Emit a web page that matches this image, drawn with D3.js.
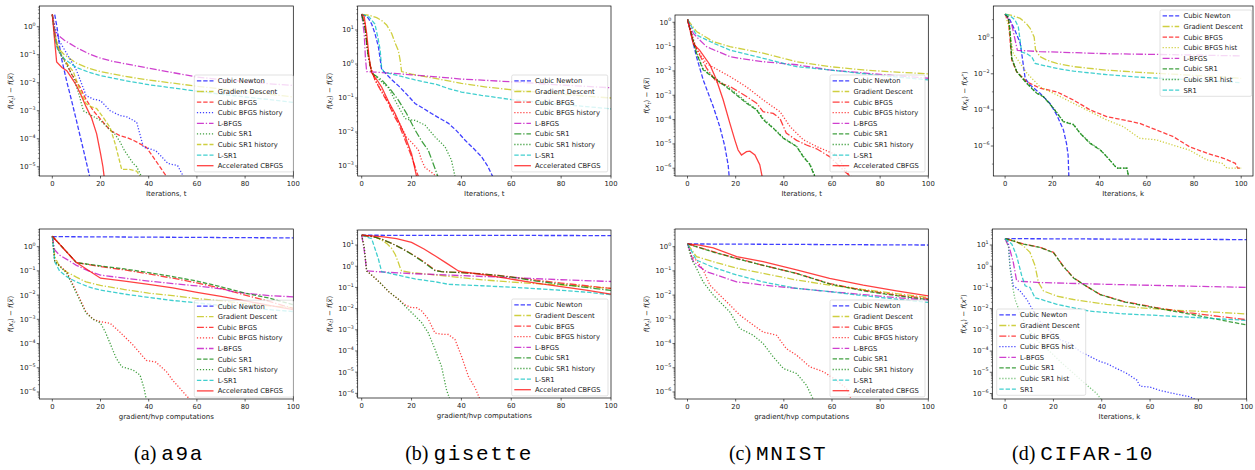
<!DOCTYPE html>
<html><head><meta charset="utf-8">
<script src="https://cdn.jsdelivr.net/npm/d3@7"></script>
<style>body{margin:0;background:#fff}svg{display:block}text{font-family:"DejaVu Sans",sans-serif}</style>
</head><body><svg id="c" width="1255" height="470"></svg>
<script>
// ---------- labels ----------
const xTicks = [0, 20, 40, 60, 80, 100];
const labelsMain = ["Cubic Newton","Gradient Descent","Cubic BFGS","Cubic BFGS history","L-BFGS","Cubic SR1","Cubic SR1 history","L-SR1","Accelerated CBFGS"];
const labelsCifar = ["Cubic Newton","Gradient Descent","Cubic BFGS","Cubic BFGS hist","L-BFGS","Cubic SR1","Cubic SR1 hist","SR1"];
const captionLetters = ["(a)","(b)","(c)","(d)"];
const captionNames = ["a9a","gisette","MNIST","CIFAR-10"];

// ---------- (a) a9a, iterations ----------
const aIt_CN = [[1,2.7],[2,0.9],[3,0.2],[4,0.063],[6,0.011],[8,2.3e-3],[10,4.5e-4],[12,8.5e-5],[14,1.6e-5],[15.5,4.5e-6]];
const aIt_GD = [[0,2.7],[1,0.6],[2,0.2],[3,0.15],[5,0.1],[10,0.05],[15,0.033],[20,0.025],[30,0.017],[40,0.0125],[50,0.0097],[60,0.0075],[70,0.006],[80,0.0048],[90,0.0039],[100,0.0031]];
const aIt_CB = [[0,2.7],[1,0.8],[2,0.2],[3,0.12],[6,0.048],[8,0.02],[11.5,7e-3],[14,2.5e-3],[17,1e-3],[20,5e-4],[24,2e-4],[28,1.3e-4],[31,1.1e-4],[34,8.5e-5],[39,5e-5],[43,1.6e-5],[47.4,4.5e-6]];
const aIt_CBH = [[0,2.7],[1,1.0],[3,0.3],[6,0.11],[10,0.028],[12,0.01],[14,3.5e-3],[17,2.6e-3],[20,2.3e-3],[24,1e-3],[28,6.8e-4],[31,6e-4],[35,3.9e-4],[37.8,5e-5],[40,4.5e-5],[43,3.7e-5],[46,2e-5],[48,1.3e-5],[52,1.1e-5],[54.4,4.5e-6]];
const aIt_LB = [[0,2.7],[1,0.65],[3,0.45],[5,0.33],[10,0.18],[15,0.11],[20,0.075],[25,0.058],[30,0.048],[40,0.033],[50,0.023],[60,0.016],[70,0.013],[80,0.011],[90,0.0092],[100,0.008]];
const aIt_CS = [[0,2.7],[1,0.5],[2.5,0.15],[5,0.06],[8.7,0.016],[11,4e-3],[12.9,1e-3],[16,7e-4],[20,4.5e-4],[23,2.5e-4],[25.9,1.5e-4],[28,8e-5],[30,3.7e-5],[33.6,1.3e-5],[35,1e-5],[37,4.5e-6]];
const aIt_CSH = [[0,2.7],[1,0.5],[3.2,0.12],[6,0.05],[8.7,0.025],[11,7e-3],[14,1.8e-3],[16,1.4e-3],[18.4,1.2e-3],[21,6e-4],[24,2.5e-4],[26,7e-5],[28.8,8e-6],[32,8e-6],[35,7e-6],[36.4,4.5e-6]];
const aIt_LS = [[0,2.7],[1,0.4],[2,0.17],[3,0.12],[5,0.07],[10,0.035],[15,0.024],[20,0.018],[30,0.012],[40,0.0085],[50,0.0065],[60,0.005],[70,0.0039],[80,0.0031],[90,0.0025],[100,0.002]];
const aIt_AC = [[0,2.8],[1,0.3],[1.8,0.055],[4,0.035],[6,0.027],[8,0.015],[10,8e-3],[12,3.5e-3],[14,1.4e-3],[16.3,5.5e-4],[18.4,1.5e-4],[20,3e-5],[21,1e-5],[21.5,4.5e-6]];

// ---------- (a) a9a, gradient/hvp computations ----------
const aGr_CN = [[0,2.6],[100,2.3]];
const aGr_GD = [[0,2.7],[1,0.4],[3,0.15],[6,0.09],[10,0.055],[14,0.035],[20,0.025],[30,0.017],[40,0.012],[50,0.0095],[60,0.0072],[70,0.0058],[80,0.0045],[90,0.0036],[100,0.003]];
const aGr_CB = [[0,2.7],[10,0.22],[20,0.15],[30,0.11],[40,0.075],[50,0.05],[60,0.032],[70,0.019],[80,0.01],[90,0.0055],[100,0.0028]];
const aGr_CBH = [[0,2.7],[1,0.25],[6,0.09],[10,0.014],[14,2e-3],[17,1e-3],[20,8e-4],[24,6.8e-4],[28,3e-4],[33.6,8.5e-5],[39,2e-5],[43,1.7e-5],[47.4,6.8e-6],[50,3e-6],[53,1.4e-6],[57,5e-7]];
const aGr_LB = [[0,2.7],[1,0.73],[3,0.45],[6,0.3],[10,0.17],[15,0.1],[20,0.067],[30,0.05],[40,0.038],[50,0.03],[60,0.024],[70,0.018],[75,0.014],[80,0.012],[90,0.0095],[100,0.0085]];
const aGr_CS = [[0,2.7],[10,0.22],[20,0.16],[30,0.12],[40,0.085],[50,0.058],[60,0.038],[70,0.022],[80,0.012],[90,0.0075],[100,0.004]];
const aGr_CSH = [[0,2.7],[1,0.25],[6,0.08],[10,0.012],[14,1.8e-3],[17,1e-3],[20,7e-4],[22,3e-4],[24,1e-4],[26.5,2.5e-5],[28.8,1.1e-5],[33.6,8e-6],[36.4,5e-6],[38,1.5e-6],[39,5e-7]];
const aGr_LS = [[0,2.7],[1,0.24],[3,0.1],[6,0.057],[10,0.035],[15,0.022],[20,0.016],[30,0.011],[40,0.008],[50,0.006],[60,0.0048],[70,0.0037],[80,0.003],[90,0.0025],[100,0.0021]];
const aGr_AC = [[0,2.7],[10,0.22],[20,0.05],[30,0.038],[40,0.028],[50,0.02],[60,0.013],[70,0.0088],[80,0.0058],[90,0.0038],[100,0.0025]];

// ---------- (b) gisette, iterations ----------
const bIt_CN = [[0,29],[1.3,27],[2.7,22],[4,15],[5.3,8],[6.7,3.2],[8,0.7],[9.4,0.55],[12,0.35],[15,0.22],[18,0.13],[21.4,0.069],[25,0.048],[28,0.035],[31,0.026],[34.8,0.018],[38,0.011],[41.4,5.8e-3],[45,3.2e-3],[48,1.9e-3],[50.5,1e-3],[52.5,5e-4]];
const bIt_GD = [[0,29],[3,27],[6,23],[8,19],[10,14],[12,8],[13.5,4],[14.7,2.5],[15.5,1.2],[16,0.6],[20,0.5],[25,0.43],[30,0.37],[40,0.27],[50,0.21],[60,0.175],[70,0.15],[80,0.13],[90,0.113],[100,0.1]];
const bIt_CB = [[0,29],[1.3,15],[2,4],[3.3,0.93],[5.3,0.34],[8,0.15],[10.7,0.069],[13,0.03],[14.7,0.018],[17.4,5.8e-3],[20,1.9e-3],[22.7,5e-4]];
const bIt_CBH = [[0,29],[1.3,15],[2.2,3],[3.5,0.8],[5.5,0.33],[8,0.16],[10.7,0.075],[13,0.035],[15,0.019],[18,7e-3],[20,5e-3],[22.7,3e-3],[24,1.5e-3],[25.4,9e-4],[28,6.5e-4],[30,5e-4]];
const bIt_LB = [[0,29],[1,8],[1.5,1.5],[2,0.6],[5,0.58],[10,0.55],[20,0.48],[30,0.42],[40,0.36],[50,0.33],[60,0.3],[70,0.27],[80,0.24],[90,0.22],[100,0.2]];
const bIt_CS = [[0,29],[1.5,10],[2.5,2],[4,0.55],[8,0.34],[11,0.2],[14.7,0.087],[18,0.035],[21.4,0.0115],[24,5.5e-3],[26.7,2.9e-3],[29.4,8.5e-4],[30.5,5e-4]];
const bIt_CSH = [[0,29],[1.5,10],[2.5,2],[4,0.55],[8,0.3],[10.7,0.2],[14,0.07],[17.4,0.025],[19,0.023],[21.4,0.022],[25.4,0.016],[29.4,7.2e-3],[33.4,3.7e-3],[36,1.5e-3],[37.4,5e-4]];
const bIt_LS = [[0,29],[3,24],[5.3,15],[6.5,6],[7.4,2.6],[8,0.75],[9,0.58],[10,0.55],[15,0.45],[21.4,0.34],[30,0.25],[34.8,0.19],[40,0.15],[48,0.12],[60,0.09],[70,0.076],[80,0.065],[90,0.056],[100,0.048]];
const bIt_AC = [[0,29],[1,25],[2,8],[3,1.5],[4,0.55],[6,0.35],[8,0.21],[10.7,0.08],[13.4,0.035],[17,0.009],[20,2.3e-3],[22,5e-4]];

// ---------- (b) gisette, gradient/hvp computations ----------
const bGr_CN = [[0,29],[100,28]];
const bGr_GD = [[0,29],[3,27],[6,23],[8,17],[10,12],[12,7],[13.5,3.5],[14.7,1.5],[15.5,0.8],[16,0.6],[20,0.5],[30,0.38],[40,0.29],[50,0.22],[60,0.18],[70,0.15],[80,0.13],[90,0.11],[100,0.09]];
const bGr_CB = [[0,29],[5,24],[8,19],[12,12],[16,7],[20,3.8],[25,1.6],[29.4,0.65],[32,0.55],[40,0.5],[48,0.44],[55,0.37],[61.5,0.3],[70,0.22],[80,0.16],[90,0.12],[100,0.09]];
const bGr_CBH = [[0,29],[1,8],[2,0.6],[5,0.3],[8,0.14],[11,0.06],[14.7,0.028],[17.4,0.015],[20,0.011],[22,0.011],[24,0.0079],[26.7,3.2e-3],[29.4,7e-4],[32,6.2e-4],[34.8,6e-4],[37.4,3.5e-4],[40,5.8e-5],[42.8,6.3e-6],[45.5,1.8e-6],[47.5,5e-7]];
const bGr_LB = [[0,29],[1,6],[2,0.6],[10,0.52],[20,0.45],[40,0.36],[60,0.29],[80,0.23],[100,0.19]];
const bGr_CS = [[0,29],[5,24],[8,19],[12,12],[16,7],[20,3.7],[25,1.5],[29.4,0.62],[32,0.55],[40,0.5],[48,0.43],[55,0.36],[61.5,0.29],[70,0.2],[80,0.14],[90,0.1],[100,0.072]];
const bGr_CSH = [[0,29],[1,8],[2,0.6],[5,0.3],[8,0.14],[11,0.06],[14.7,0.028],[17.4,0.013],[21.4,4.5e-3],[24,2.2e-3],[26.7,7.2e-4],[29.4,1.2e-4],[32,1.9e-5],[34,1.5e-6],[35.4,5e-7]];
const bGr_LS = [[0,29],[4,20],[6.7,2.2],[8,0.55],[10,0.5],[21.4,0.25],[30,0.18],[34.8,0.14],[48,0.12],[61.5,0.1],[75,0.08],[90,0.06],[100,0.045]];
const bGr_AC = [[0,29],[8,25],[14,20],[20,13.4],[25,6.5],[29.4,3.1],[34,1.4],[38.8,0.6],[40,0.55],[50,0.38],[61.5,0.23],[70,0.16],[80,0.11],[90,0.075],[100,0.048]];

// ---------- (c) MNIST, iterations ----------
const cIt_CN = [[0,1.3],[1.7,0.26],[3.7,0.039],[6.5,4.3e-3],[10.7,3.4e-4],[13.4,5.1e-5],[15.5,7.9e-6],[16.9,1.3e-6],[17.3,4.5e-7]];
const cIt_GD = [[0,1.3],[3.7,0.42],[10.7,0.16],[17.6,0.1],[25,0.072],[31.4,0.054],[45.3,0.024],[59,0.015],[73,0.011],[85,0.0092],[100,0.0076]];
const cIt_CB = [[0,1.3],[2.4,0.16],[5,0.046],[7.9,0.013],[12,3.6e-3],[17.6,2.3e-3],[24.5,8.9e-4],[28.7,4.7e-4],[31.4,2.1e-4],[35.6,1.8e-4],[38.4,1.1e-4],[41,2.8e-5],[45.3,1.4e-5],[49.4,9e-6],[53.6,6.3e-6],[59,3e-6],[66,6.3e-7],[68,4.5e-7]];
const cIt_CBH = [[0,1.3],[3.7,0.08],[7.9,0.02],[17.6,5.9e-3],[24.5,2.2e-3],[31.4,6.5e-4],[38.4,2.1e-4],[42.6,5.1e-5],[48,1.5e-5],[53.6,7.8e-6],[61.9,3.5e-6],[67.4,4.5e-7]];
const cIt_LB = [[0,1.3],[2.4,0.35],[5,0.19],[7.9,0.1],[10,0.08],[14,0.055],[17.6,0.039],[21.7,0.033],[31.4,0.024],[45.3,0.018],[59,0.011],[80,0.0072],[100,0.005]];
const cIt_CS = [[0,1.3],[3.7,0.054],[6.5,0.011],[12,4.3e-3],[17.6,1.7e-3],[24.5,4.7e-4],[28.7,2.5e-4],[31.4,9.8e-5],[35.6,4.4e-5],[39.8,1.7e-5],[45.3,7.8e-6],[48,3e-6],[50.8,1.4e-6],[52.9,4.5e-7]];
const cIt_CSH = [[0,1.3],[3.7,0.06],[6.5,0.012],[12,4.6e-3],[17.6,1.9e-3],[24.5,5.2e-4],[28.7,2.6e-4],[31.4,1.1e-4],[35.6,4.6e-5],[39.8,1.8e-5],[45.3,8e-6],[48,3.2e-6],[51,1.4e-6],[53,4.5e-7]];
const cIt_LS = [[0,1.3],[3.7,0.3],[10.7,0.14],[17.6,0.072],[31.4,0.033],[45.3,0.015],[59,0.011],[80,0.0065],[100,0.0043]];
const cIt_AC = [[0,1.3],[2.4,0.13],[5,0.072],[9.3,0.018],[12,4.3e-3],[14.8,6.5e-4],[17.6,7e-5],[19.7,1.4e-5],[21,5.6e-6],[22.4,3.5e-6],[24.5,4.8e-6],[25.9,5e-6],[28,3.5e-6],[30,1.4e-6],[31,4.5e-7]];

// ---------- (c) MNIST, gradient/hvp computations ----------
const cGr_CN = [[0,1.3],[100,1.17]];
const cGr_GD = [[0,1.3],[3.7,0.39],[10.7,0.24],[20.4,0.13],[31.4,0.079],[45.3,0.042],[59,0.026],[73,0.017],[86.8,0.0115],[100,0.008]];
const cGr_CB = [[0,1.3],[10.7,0.62],[20.4,0.33],[31.4,0.17],[45.3,0.079],[59,0.03],[73,0.016],[86.8,0.01],[100,0.0072]];
const cGr_CBH = [[0,1.3],[1.7,0.4],[3.7,0.27],[6.5,0.11],[9.3,0.026],[13.4,0.01],[17.6,3.9e-3],[21.7,1.5e-3],[27.3,5.8e-4],[31.4,3e-4],[37,2.2e-4],[41,6.2e-5],[45.3,3.3e-5],[50.8,1.1e-5],[56.5,6.8e-6],[62,3e-6],[66,1.4e-6],[68,5e-7]];
const cGr_LB = [[0,1.3],[2.4,0.25],[5,0.15],[7.9,0.093],[10.7,0.075],[20.4,0.035],[24.5,0.032],[31.4,0.026],[45.3,0.019],[59,0.014],[73,0.0105],[86.8,0.0078],[100,0.0063]];
const cGr_CS = [[0,1.3],[10.7,0.6],[20.4,0.32],[31.4,0.17],[45.3,0.078],[59,0.029],[73,0.015],[86.8,0.0095],[100,0.0065]];
const cGr_CSH = [[0,1.3],[1.7,0.3],[3.7,0.13],[6.5,0.035],[10.7,0.01],[17.6,2e-3],[21.7,4.2e-4],[27.3,2.2e-4],[31.4,1e-4],[35.6,2.8e-5],[39.8,9.3e-6],[45.3,5.8e-6],[49.4,1.9e-6],[52.2,5e-7]];
const cGr_LS = [[0,1.3],[3.7,0.28],[10.7,0.14],[20.4,0.068],[31.4,0.035],[45.3,0.019],[59,0.014],[73,0.0095],[86.8,0.0068],[100,0.005]];
const cGr_AC = [[0,1.3],[5,1.15],[10.7,0.9],[20.4,0.39],[31.4,0.24],[45.3,0.11],[59,0.049],[73,0.026],[86.8,0.015],[100,0.0093]];

// ---------- (d) CIFAR-10, iterations ----------
const dIt_CN = [[0,20],[2.1,9.5],[4.2,2.5],[6.4,0.49],[7.5,0.05],[8.5,5.6e-3],[10.6,2.4e-3],[14.8,8.3e-4],[19,2.3e-4],[21.9,5.2e-5],[24.7,7.8e-6],[26,1.4e-6],[26.7,3e-7],[27,2e-8]];
const dIt_GD = [[0,20],[3,17],[6.4,11.7],[9,6],[10.6,3.3],[12.3,1.1],[12.9,0.21],[14.8,0.089],[18,0.055],[21.9,0.038],[29,0.025],[43,0.016],[57,0.012],[71,0.0095],[85,0.0075],[100,0.0056]];
const dIt_CB = [[0,20],[1.4,9],[2.8,0.058],[4.9,0.013],[9.2,3.6e-3],[14.8,1.6e-3],[21.9,1e-3],[29,3.5e-4],[36,1e-4],[43,4.3e-5],[50,2.8e-5],[57,1.8e-5],[64,7.8e-6],[71.3,3.3e-6],[78,9.3e-7],[85.5,4e-7],[92.5,2.1e-7],[97.5,1.1e-7],[98.5,5.9e-8],[100,5.9e-8]];
const dIt_CBH = [[0,20],[1.4,5],[3.5,0.13],[6.4,0.038],[9.2,0.011],[14.8,1.9e-3],[21.9,6.8e-4],[29,2.3e-4],[36,8e-5],[43,2.8e-5],[50,1.2e-5],[57,2.7e-6],[64,2.2e-6],[71.3,1.1e-6],[78,6e-7],[85.5,1.7e-7],[92,1.1e-7],[94,5.9e-8],[100,5.9e-8]];
const dIt_LB = [[0,20],[2.8,5.5],[4.2,0.79],[5.2,0.2],[14.8,0.17],[43,0.13],[71,0.115],[100,0.098]];
const dIt_CS = [[0,20],[1.4,14],[2.1,2.5],[2.8,0.072],[4.9,0.013],[9.2,2.9e-3],[13.4,8.3e-4],[16.2,5.4e-4],[20.5,1.2e-4],[24.7,2.2e-5],[29,1.5e-5],[31.8,5e-6],[36,1.4e-6],[40.3,6e-7],[43,2.6e-7],[47.3,5.9e-8],[51.6,5.9e-8],[52.3,2e-8]];
const dIt_CSH = [[0,20],[1.4,12],[2.1,2],[2.8,0.08],[4.9,0.014],[9.2,3e-3],[13.4,8.5e-4],[16.2,5.6e-4],[20.5,1.3e-4],[24.7,2.3e-5],[29,1.6e-5],[31.8,5.2e-6],[36,1.5e-6],[40.3,6.2e-7],[43,2.7e-7],[47.3,6e-8],[51.6,6e-8],[52.3,2e-8]];
const dIt_SR = [[0,20],[2,17],[4.2,9.5],[5.6,4],[7,0.16],[9.2,0.13],[11.3,0.086],[12.7,0.038],[14.8,0.032],[21.9,0.02],[29,0.014],[43,0.009],[57,0.0065],[71,0.0052],[85,0.0043],[100,0.0032]];

// ---------- (d) CIFAR-10, second row ----------
const dGr_CN = [[0,20],[100,18]];
const dGr_GD = [[0,20],[4,16],[7.6,9],[10.3,4.5],[12.4,1.05],[13.8,0.17],[15.9,0.068],[21.4,0.039],[28.3,0.027],[42,0.016],[55.9,0.011],[69.7,0.0085],[85,0.007],[100,0.0056]];
const dGr_CB = [[0,20],[7.6,11.2],[14.5,7.8],[20,4.5],[24,1.05],[28.3,0.29],[32.4,0.14],[39.3,0.047],[49,0.022],[62.8,0.011],[76.6,0.0063],[100,0.003]];
const dGr_CBH = [[0,20],[1.4,11],[2,1.0],[3.4,0.12],[6.2,0.068],[9,0.027],[11.7,7.6e-3],[14.5,2.5e-3],[18.6,8.5e-4],[22.8,3.4e-4],[26.9,2.3e-4],[31,9.5e-5],[35.2,5.5e-5],[39.3,3.2e-5],[42,2.6e-5],[46.2,1.5e-5],[50.3,8.9e-6],[54.5,4.3e-6],[55.9,2.2e-6],[60,2e-6],[64,1.4e-6],[69.7,1e-6],[76.6,6.9e-7],[79.3,4.8e-7]];
const dGr_LB = [[0,20],[2,6],[3.4,1.5],[4.8,0.2],[14.5,0.17],[42,0.14],[69.7,0.12],[100,0.1]];
const dGr_CS = [[0,20],[7.6,11],[14.5,7.6],[20,4.4],[24,1.0],[28.3,0.28],[32.4,0.14],[39.3,0.046],[49,0.021],[62.8,0.0105],[76.6,0.0055],[100,0.0017]];
const dGr_CSH = [[0,20],[1.4,8],[2,1],[2.8,0.17],[4.1,0.027],[6.2,6.3e-3],[9,1.4e-3],[11.7,4.9e-4],[14.5,2.3e-4],[18.6,9.5e-5],[22.8,3.2e-5],[28.3,8.9e-6],[33.8,2.5e-6],[37.9,1e-6],[40,4.8e-7]];
const dGr_SR = [[0,20],[2.8,11],[4.8,3],[6.9,0.35],[8.3,0.12],[10.3,0.1],[12.4,0.032],[14.5,0.028],[21.4,0.016],[35,0.0076],[49,0.0057],[62.8,0.0048],[100,0.0028]];

// ---------- styling ----------
const COLORS = {b:"#0000ff", y:"#bfbf00", r:"#ff0000", m:"#bf00bf", g:"#008000", c:"#00bfbf", lg:"#4caf50"};
const DASH = {"--":"4.4,1.9", "-.":"7,1.9,1.3,1.9", ":":"1.2,1.8", "-":null};
const stA1 = [["b","--"],["y","-."],["r","--"],["b",":"],["m","-."],["g",":"],["y","--"],["c","--"],["r","-"]];
const stA2 = [["b","--"],["y","-."],["r","-."],["r",":"],["m","-."],["g","--"],["g",":"],["c","--"],["r","-"]];
const stB  = [["b","--"],["y","-."],["r","-."],["r",":"],["m","-."],["g","-."],["g",":"],["c","--"],["r","-"]];
const stC  = [["b","--"],["y","-."],["r","-."],["r",":"],["m","-."],["g","--"],["g",":"],["c","--"],["r","-"]];
const stD1 = [["b","--"],["y","-."],["r","--"],["y",":"],["m","-."],["g","--"],["g",":"],["c","--"]];
const stD2 = [["b","--"],["y","-."],["r","-."],["b",":"],["m","-."],["g","--"],["lg",":"],["c","--"]];

const panels = [
 {box:{l:39.3,r:293.3,t:6,b:176}, xd:[-5.4,100], yd:[-5.33,0.74], yt:[0,-1,-2,-3,-4,-5], step:1, yl:"t", xl:"Iterations, t",
  leg:{x:194.3,y:75,w:99}, labels:labelsMain, st:stA1, s:[aIt_CN,aIt_GD,aIt_CB,aIt_CBH,aIt_LB,aIt_CS,aIt_CSH,aIt_LS,aIt_AC]},
 {box:{l:39.3,r:293.3,t:229,b:399}, xd:[-5.4,100], yd:[-6.29,0.73], yt:[0,-1,-2,-3,-4,-5,-6], step:1, yl:"t", xl:"gradient/hvp computations",
  leg:{x:194.3,y:300.2,w:99}, labels:labelsMain, st:stA2, s:[aGr_CN,aGr_GD,aGr_CB,aGr_CBH,aGr_LB,aGr_CS,aGr_CSH,aGr_LS,aGr_AC]},
 {box:{l:357.7,r:611,t:6,b:176}, xd:[-1.6,100], yd:[-3.294,1.706], yt:[1,0,-1,-2,-3], step:1, yl:"t", xl:"Iterations, t",
  leg:{x:511.7,y:75,w:96}, labels:labelsMain, st:stB, s:[bIt_CN,bIt_GD,bIt_CB,bIt_CBH,bIt_LB,bIt_CS,bIt_CSH,bIt_LS,bIt_AC]},
 {box:{l:357.7,r:611,t:230,b:398}, xd:[-1.6,100], yd:[-6.22,1.71], yt:[1,0,-1,-2,-3,-4,-5,-6], step:1, yl:"t", xl:"gradient/hvp computations",
  leg:{x:511.7,y:299,w:96.3}, labels:labelsMain, st:stB, s:[bGr_CN,bGr_GD,bGr_CB,bGr_CBH,bGr_LB,bGr_CS,bGr_CSH,bGr_LS,bGr_AC]},
 {box:{l:675,r:928.3,t:15,b:176}, xd:[-5.2,100], yd:[-6.32,0.3], yt:[0,-1,-2,-3,-4,-5,-6], step:1, yl:"t", xl:"Iterations, t",
  leg:{x:830,y:75,w:95}, labels:labelsMain, st:stC, s:[cIt_CN,cIt_GD,cIt_CB,cIt_CBH,cIt_LB,cIt_CS,cIt_CSH,cIt_LS,cIt_AC]},
 {box:{l:675,r:928.3,t:229,b:399}, xd:[-5.2,100], yd:[-6.29,0.73], yt:[0,-1,-2,-3,-4,-5,-6], step:1, yl:"t", xl:"gradient/hvp computations",
  leg:{x:830,y:300,w:95}, labels:labelsMain, st:stC, s:[cGr_CN,cGr_GD,cGr_CB,cGr_CBH,cGr_LB,cGr_CS,cGr_CSH,cGr_LS,cGr_AC]},
 {box:{l:993.3,r:1253,t:6,b:176}, xd:[-5,105], yd:[-7.66,1.756], yt:[0,-2,-4,-6], step:2, yl:"k", xl:"Iterations, k",
  leg:{x:1160,y:10,w:91.7}, labels:labelsCifar, st:stD1, s:[dIt_CN,dIt_GD,dIt_CB,dIt_CBH,dIt_LB,dIt_CS,dIt_CSH,dIt_SR]},
 {box:{l:992.3,r:1246.7,t:229,b:399}, xd:[-5.3,100], yd:[-6.26,1.755], yt:[1,0,-1,-2,-3,-4,-5,-6], step:1, yl:"k", xl:"Iterations, k",
  leg:{x:996.7,y:309,w:89}, labels:labelsCifar, st:stD2, s:[dGr_CN,dGr_GD,dGr_CB,dGr_CBH,dGr_LB,dGr_CS,dGr_CSH,dGr_SR]}
];

const svg = d3.select("#c");
const FS = 6.8;

panels.forEach((p, pi) => {
  const B = p.box;
  const x = d3.scaleLinear().domain(p.xd).range([B.l, B.r]);
  const y = d3.scaleLog().domain([Math.pow(10,p.yd[0]), Math.pow(10,p.yd[1])]).range([B.b, B.t]);
  const g = svg.append("g");
  const cid = "clip" + pi;
  svg.append("clipPath").attr("id", cid).append("rect")
    .attr("x", B.l).attr("y", B.t).attr("width", B.r - B.l).attr("height", B.b - B.t);

  // series
  const line = d3.line().x(d => x(d[0])).y(d => y(d[1]));
  const lg = g.append("g").attr("clip-path", `url(#${cid})`);
  p.s.forEach((data, i) => {
    const [c, ds] = p.st[i];
    lg.append("path").datum(data).attr("d", line)
      .attr("fill", "none").attr("stroke", COLORS[c]).attr("stroke-width", 1.3)
      .attr("stroke-opacity", 0.75)
      .attr("stroke-dasharray", DASH[ds]);
  });

  // x axis ticks
  const xa = g.append("g");
  xTicks.forEach(t => {
    const px = x(t);
    xa.append("line").attr("x1", px).attr("x2", px).attr("y1", B.b).attr("y2", B.b + 2.5).attr("stroke", "#000").attr("stroke-width", 0.6);
    xa.append("text").attr("x", px).attr("y", B.b + 9.6).attr("text-anchor", "middle")
      .attr("font-size", FS).attr("fill", "#222").text(t);
  });
  // y axis ticks (log)
  const ya = g.append("g");
  p.yt.forEach(k => {
    const py = y(Math.pow(10, k));
    ya.append("line").attr("x1", B.l - 2.5).attr("x2", B.l).attr("y1", py).attr("y2", py).attr("stroke", "#000").attr("stroke-width", 0.6);
    const t = ya.append("text").attr("x", B.l - 3.8).attr("y", py + 2.4).attr("text-anchor", "end")
      .attr("font-size", FS).attr("fill", "#222");
    t.append("tspan").text("10");
    t.append("tspan").attr("dy", -3.2).attr("font-size", FS * 0.7).text(k < 0 ? "\u2212" + (-k) : String(k));
  });
  // minor ticks
  const lo = Math.floor(p.yd[0]), hi = Math.ceil(p.yd[1]);
  for (let k = lo; k <= hi; k++) {
    const subs = p.step === 1 ? [2,3,4,5,6,7,8,9] : (Math.abs(k) % 2 === 1 ? [1] : []);
    subs.forEach(m => {
      const lv = k + Math.log10(m);
      if (lv <= p.yd[0] || lv >= p.yd[1]) return;
      const py = y(Math.pow(10, lv));
      ya.append("line").attr("x1", B.l - 1.4).attr("x2", B.l).attr("y1", py).attr("y2", py).attr("stroke", "#000").attr("stroke-width", 0.45);
    });
  }
  // spines
  g.append("rect").attr("x", B.l).attr("y", B.t).attr("width", B.r - B.l).attr("height", B.b - B.t)
    .attr("fill", "none").attr("stroke", "#000").attr("stroke-width", 0.7);

  // axis labels
  g.append("text").attr("x", (B.l + B.r) / 2).attr("y", B.b + 19.5).attr("text-anchor", "middle")
    .attr("font-size", FS + 0.2).attr("fill", "#222").text(p.xl);
  const yl = g.append("text").attr("transform", `translate(${B.l - 26},${(B.t + B.b) / 2}) rotate(-90)`)
    .attr("text-anchor", "middle").attr("font-size", FS + 0.2).attr("fill", "#222");
  yl.append("tspan").attr("font-style", "italic").text("f");
  yl.append("tspan").text("(");
  yl.append("tspan").attr("font-style", "italic").text("x");
  yl.append("tspan").attr("font-style", "italic").attr("dy", 1.6).attr("font-size", FS * 0.7).text(p.yl);
  yl.append("tspan").attr("dy", -1.6).text(") \u2212 ");
  yl.append("tspan").attr("font-style", "italic").text("f");
  yl.append("tspan").text("(");
  if (p.yl === "k") {
    yl.append("tspan").attr("font-style", "italic").text("x");
    yl.append("tspan").attr("dy", -2.6).attr("font-size", FS * 0.7).text("*");
    yl.append("tspan").attr("dy", 2.6).text(")");
  } else {
    yl.append("tspan").attr("font-style", "italic").text("x\u0305");
    yl.append("tspan").text(")");
  }

  // legend
  const L = p.leg, n = p.labels.length, rowH = 10.6;
  const lgG = g.append("g");
  lgG.append("rect").attr("x", L.x).attr("y", L.y).attr("width", L.w).attr("height", 12.1 + (n - 1) * rowH)
    .attr("rx", 1.6).attr("fill", "#fff").attr("fill-opacity", 0.8).attr("stroke", "#ccc").attr("stroke-width", 0.6);
  p.labels.forEach((lab, i) => {
    const cy = L.y + 5.9 + i * rowH;
    const [c, ds] = p.st[i];
    lgG.append("line").attr("x1", L.x + 2.6).attr("x2", L.x + 19.2).attr("y1", cy).attr("y2", cy)
      .attr("stroke", COLORS[c]).attr("stroke-width", 1.3).attr("stroke-opacity", 0.75).attr("stroke-dasharray", DASH[ds]);
    lgG.append("text").attr("x", L.x + 23.4).attr("y", cy + 2.4).attr("font-size", FS).attr("fill", "#222").text(lab);
  });
});

// captions
const capX = [169, 469, 778, 1083];
captionLetters.forEach((c, i) => {
  const t = svg.append("text").attr("x", capX[i]).attr("y", 460).attr("text-anchor", "middle");
  t.append("tspan").attr("font-family", "Liberation Serif, serif").attr("font-size", 20).text(c + " ");
  t.append("tspan").attr("font-family", "Liberation Mono, monospace").attr("font-size", 21)
    .attr("letter-spacing", 1.6).attr("font-weight", 300).text(captionNames[i]);
});
</script></body></html>
